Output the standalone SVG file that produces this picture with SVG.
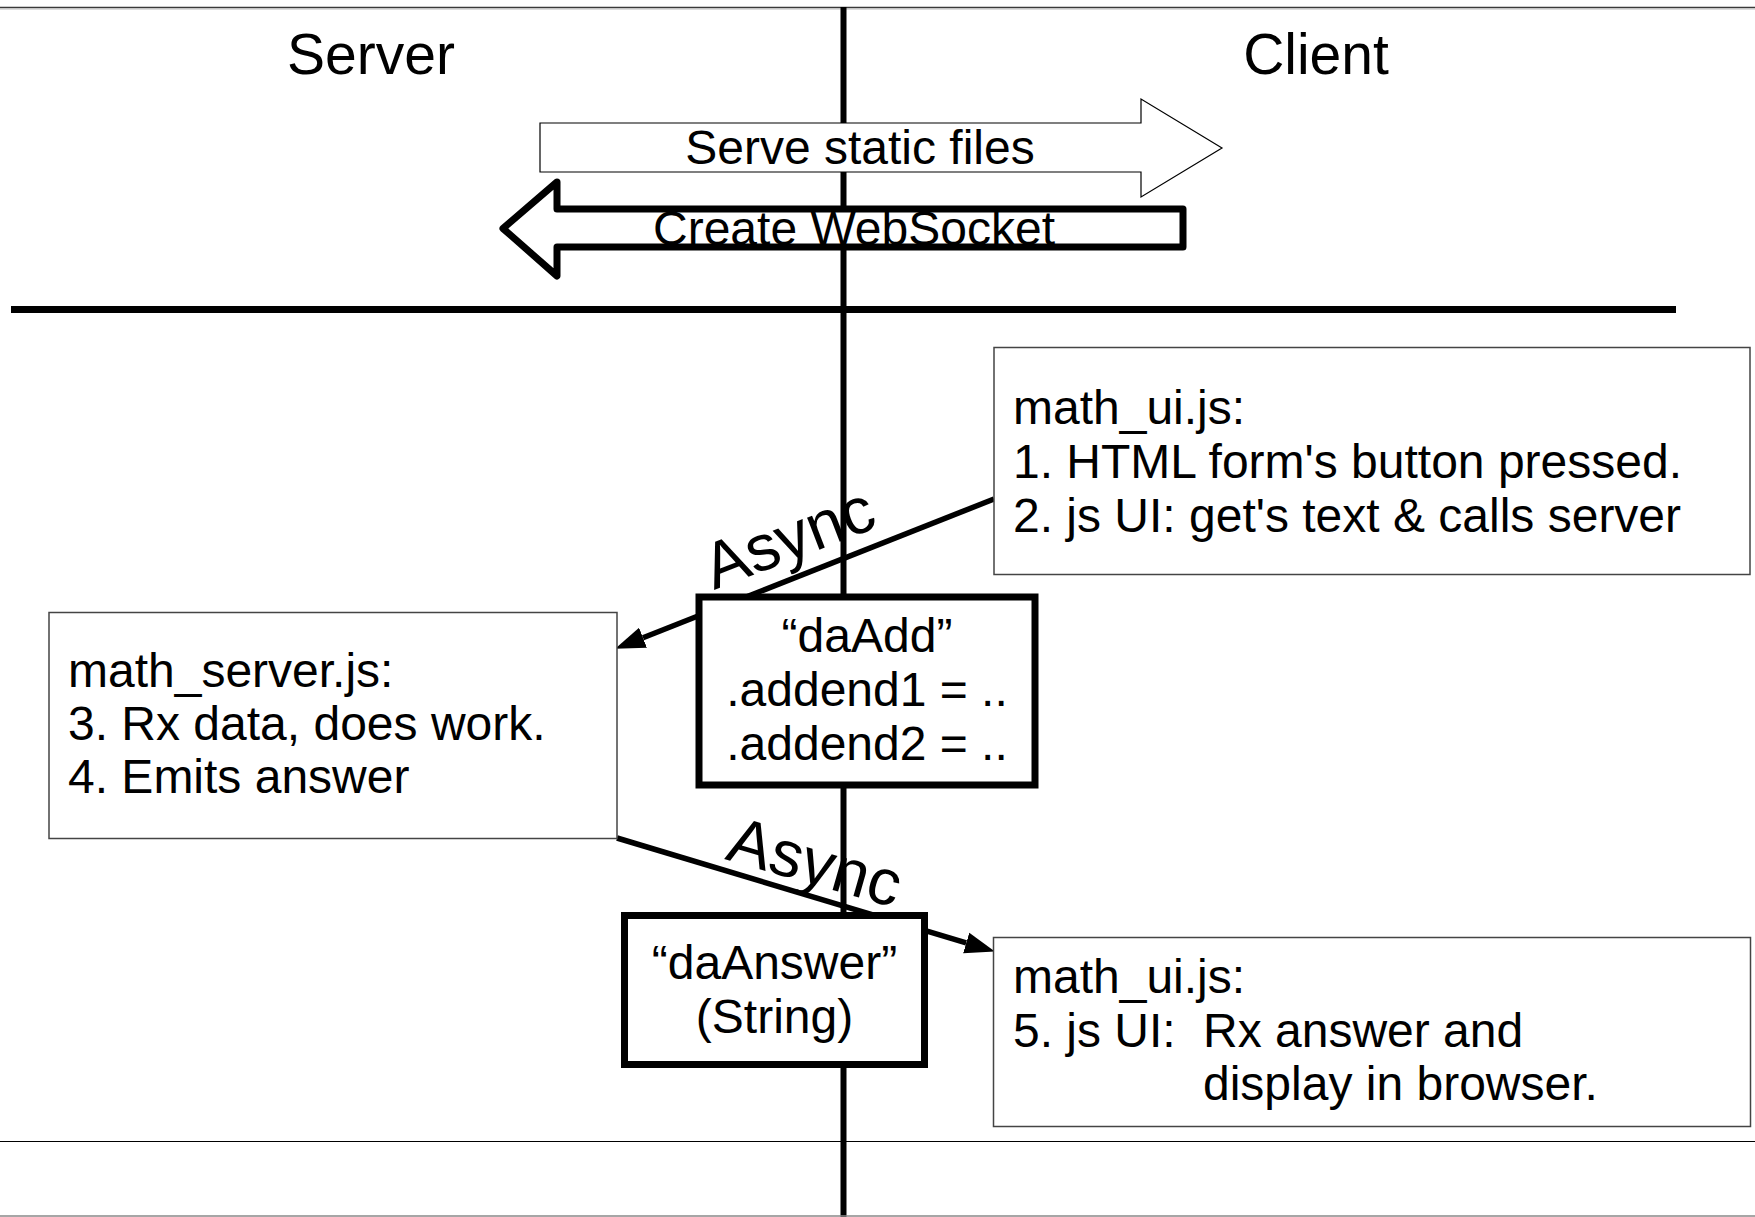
<svg xmlns="http://www.w3.org/2000/svg" width="1755" height="1217" viewBox="0 0 1755 1217">
  <defs>
    <marker id="head" markerUnits="userSpaceOnUse" markerWidth="30" markerHeight="22" viewBox="0 0 28 20" refX="0" refY="10" orient="auto">
      <path d="M0,0 L28,10 L0,20 z" fill="#000"/>
    </marker>
  </defs>
  <style>
    text { font-family: "Liberation Sans", Arial, sans-serif; fill: #000; }
    .title { font-size: 57px; text-anchor: middle; }
    .t48 { font-size: 48px; }
    .mid { text-anchor: middle; }
    .async { font-size: 65px; }
    .note { fill: #fff; stroke: #444; stroke-width: 1.5; }
    .msg { fill: #fff; stroke: #000; stroke-width: 7; stroke-linejoin: miter; }
    .flow { fill: none; stroke: #000; stroke-width: 5.5; marker-end: url(#head); }
  </style>

  <rect width="1755" height="1217" fill="#fff"/>

  <!-- frame and lane dividers -->
  <g id="frame">
    <line x1="0" y1="7.5" x2="1755" y2="7.5" stroke="#3a3a3a" stroke-width="1.5"/>
    <line x1="0" y1="9" x2="1755" y2="9" stroke="#bbb" stroke-width="1"/>
    <line x1="843.5" y1="7" x2="843.5" y2="1217" stroke="#000" stroke-width="6"/>
    <line x1="11" y1="309.5" x2="1676" y2="309.5" stroke="#000" stroke-width="7"/>
    <line x1="0" y1="1141.5" x2="1755" y2="1141.5" stroke="#000" stroke-width="1.2"/>
    <line x1="0" y1="1216" x2="1755" y2="1216" stroke="#888" stroke-width="1.5"/>
  </g>

  <g id="lane-titles">
    <text class="title" x="371" y="73.5">Server</text>
    <text class="title" x="1316" y="73.5">Client</text>
  </g>

  <!-- handshake arrows -->
  <g id="serve-static">
    <polygon points="540,123 1141,123 1141,99 1222,148 1141,197 1141,172 540,172" fill="#fff" stroke="#000" stroke-width="1.2"/>
    <text class="t48 mid" x="860" y="164">Serve static files</text>
  </g>
  <g id="create-websocket">
    <polygon points="1183,209 557,209 557,182 503,228.5 557,276 557,247 1183,247" fill="#fff" stroke="#000" stroke-width="7" stroke-linejoin="round"/>
    <text class="t48 mid" x="854" y="245">Create WebSocket</text>
  </g>

  <!-- connectors -->
  <g id="connectors">
    <line class="flow" x1="994" y1="499" x2="643" y2="637.7"/>
    <line class="flow" x1="617" y1="838" x2="966.2" y2="942.9"/>
    <text class="async" transform="translate(714,590) rotate(-21)">Async</text>
    <text class="async" transform="translate(724,859) rotate(16)">Async</text>
  </g>

  <g id="math-ui-request">
    <rect class="note" x="994" y="347.5" width="756" height="227"/>
    <text class="t48" x="1013" y="424">math_ui.js:</text>
    <text class="t48" x="1013" y="478">1. HTML form's button pressed.</text>
    <text class="t48" x="1013" y="532">2. js UI: get's text &amp; calls server</text>
  </g>

  <g id="math-server">
    <rect class="note" x="49" y="612.5" width="568" height="226"/>
    <text class="t48" x="68" y="687">math_server.js:</text>
    <text class="t48" x="68" y="740">3. Rx data, does work.</text>
    <text class="t48" x="68" y="793">4. Emits answer</text>
  </g>

  <g id="msg-daAdd">
    <rect class="msg" x="699" y="597" width="336" height="188"/>
    <text class="t48 mid" x="867" y="652">“daAdd”</text>
    <text class="t48 mid" x="867" y="706">.addend1 = ..</text>
    <text class="t48 mid" x="867" y="760">.addend2 = ..</text>
  </g>

  <g id="msg-daAnswer">
    <rect class="msg" x="624.5" y="915.5" width="300" height="149"/>
    <text class="t48 mid" x="774.5" y="979">“daAnswer”</text>
    <text class="t48 mid" x="774.5" y="1033">(String)</text>
  </g>

  <g id="math-ui-response">
    <rect class="note" x="993.5" y="937.5" width="757" height="189"/>
    <text class="t48" x="1013" y="993">math_ui.js:</text>
    <text class="t48" x="1013" y="1047">5. js UI:</text>
    <text class="t48" x="1203" y="1047">Rx answer and</text>
    <text class="t48" x="1203" y="1100">display in browser.</text>
  </g>
</svg>
